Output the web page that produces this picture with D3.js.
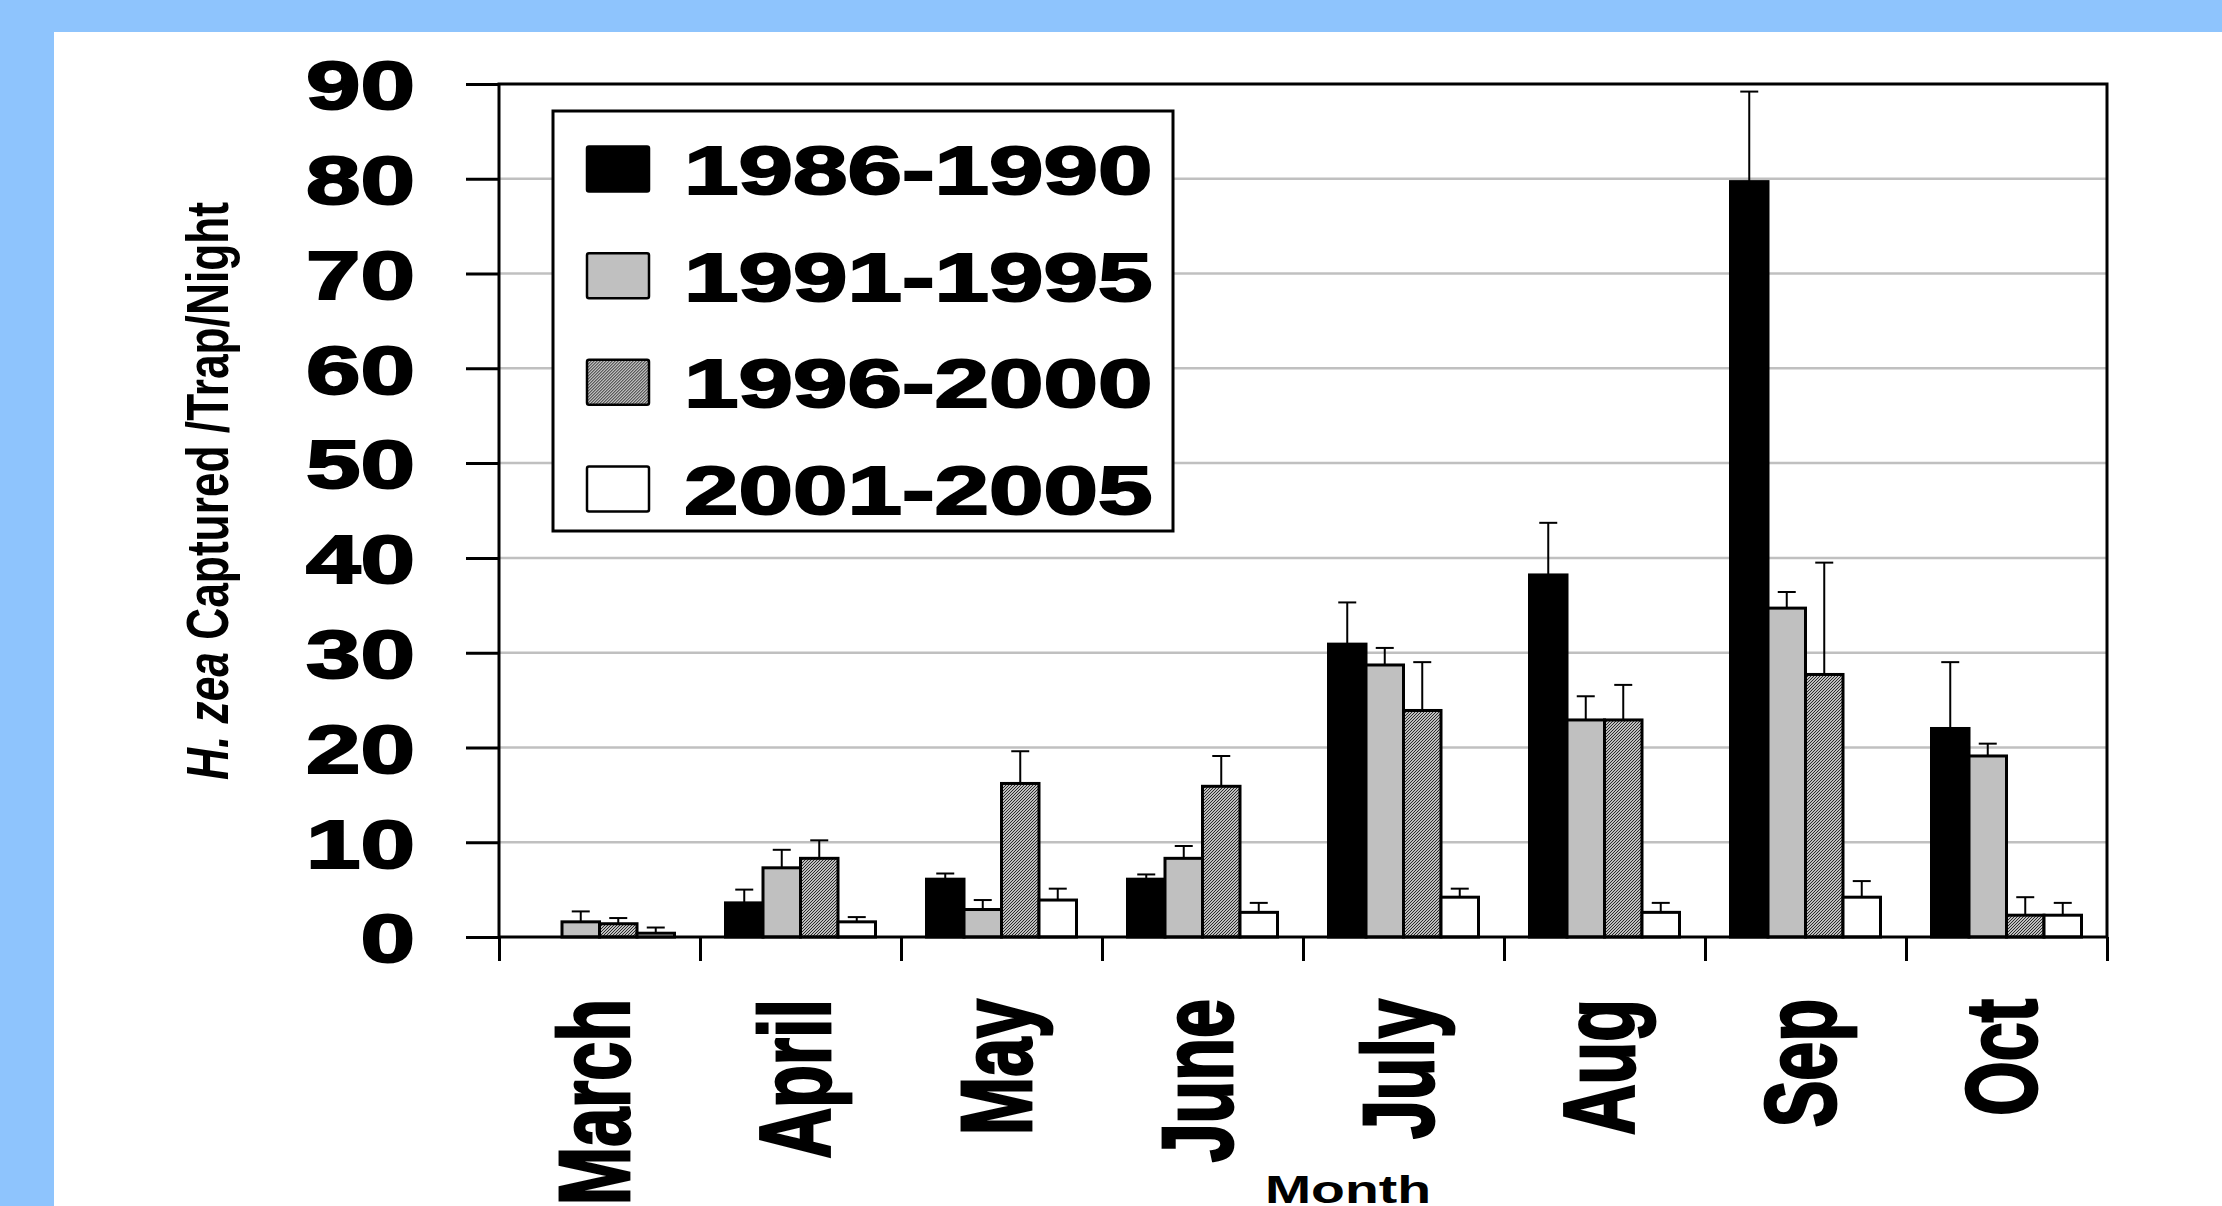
<!DOCTYPE html>
<html>
<head>
<meta charset="utf-8">
<script src="https://cdn.jsdelivr.net/npm/d3@7"></script>
<style>
  html, body { margin: 0; padding: 0; background: #8ec4fd; }
  svg { display: block; }
  text { font-family: "Liberation Sans", Arial, Helvetica, sans-serif; font-weight: bold; fill: #000; }
</style>
</head>
<body>
<svg id="chart" width="2222" height="1206"></svg>
<script>

// Months on the x axis and the four five-year periods
var months  = ['March', 'April', 'May', 'June', 'July', 'Aug', 'Sep', 'Oct'];
var periods = ['1986-1990', '1991-1995', '1996-2000', '2001-2005'];

// Mean moths per trap per night
var mean_1986 = [0,   3.6, 6.1,  6.1,  30.9, 38.2, 79.7, 22.0];
var mean_1991 = [1.6, 7.3, 2.9,  8.3,  28.7, 22.9, 34.7, 19.1];
var mean_1996 = [1.4, 8.3, 16.2, 15.9, 23.9, 22.9, 27.7, 2.3];
var mean_2001 = [0.4, 1.6, 3.9,  2.6,  4.2,  2.6,  4.2,  2.3];

// Upper error bar lengths (SE)
var err_1986 = [0,   1.4, 0.6, 0.5, 4.4, 5.5, 9.5,  7.0];
var err_1991 = [1.1, 1.9, 1.0, 1.3, 1.8, 2.5, 1.7,  1.3];
var err_1996 = [0.6, 1.9, 3.4, 3.2, 5.1, 3.7, 11.8, 1.9];
var err_2001 = [0.6, 0.5, 1.2, 1.0, 0.9, 1.0, 1.7,  1.3];

var yTicks = [0, 10, 20, 30, 40, 50, 60, 70, 80, 90];
var yTitleItalic = 'H. zea';
var yTitleRest   = ' Captured /Trap/Night';
var xTitle       = 'Month';

var series = [
	{period: periods[0], means: mean_1986, errs: err_1986},
	{period: periods[1], means: mean_1991, errs: err_1991},
	{period: periods[2], means: mean_1996, errs: err_1996},
	{period: periods[3], means: mean_2001, errs: err_2001}
];

// the original picture is stretched sideways, text too
var stretch = 1.42;
// (window.top is read-only, so no plain "top" here)
var plotL = 499, plotR = 2107, plotT = 84, plotB = 937;
var fills = ['#000', '#c0c0c0', 'url(#hatch)', '#fff'];

var svg = d3.select('#chart');

svg.append('rect')
	.attr('x', 54).attr('y', 32)
	.attr('width', 2222 - 54).attr('height', 1206 - 32)
	.attr('fill', '#fff');

// fine diagonal hatch for 1996-2000
var pat = svg.append('defs').append('pattern')
	.attr('id', 'hatch')
	.attr('patternUnits', 'userSpaceOnUse')
	.attr('width', 3).attr('height', 3);
pat.append('rect').attr('width', 3).attr('height', 3).attr('fill', '#bdbdbd');
pat.append('path').attr('d', 'M0,2h1v1h-1z M1,1h1v1h-1z M2,0h1v1h-1z').attr('fill', '#2a2a2a');

var y  = d3.scaleLinear().domain([0, 90]).range([plotB, plotT]);
var x0 = d3.scaleBand().domain(months).range([plotL, plotR]);
var x1 = d3.scaleBand().domain(periods).range([0, x0.bandwidth()]).paddingOuter(0.68);

// gridlines
svg.append('g').selectAll('line')
	.data(yTicks.filter(function(d){ return d > 0 && d < 90; }))
	.join('line')
	.attr('x1', plotL).attr('x2', plotR)
	.attr('y1', function(d){ return y(d); })
	.attr('y2', function(d){ return y(d); })
	.attr('stroke', '#c0c0c0')
	.attr('stroke-width', 2.5);

// one record per bar
var cells = [];
months.forEach(function(m, mi){
	series.forEach(function(s, si){
		cells.push({month: m, period: s.period, idx: si, v: s.means[mi], e: s.errs[mi]});
	});
});
var drawn = cells.filter(function(d){ return d.v > 0; });

svg.append('g').selectAll('rect')
	.data(drawn)
	.join('rect')
	.attr('x', function(d){ return x0(d.month) + x1(d.period); })
	.attr('width', x1.bandwidth())
	.attr('y', function(d){ return y(d.v); })
	.attr('height', function(d){ return y(0) - y(d.v); })
	.attr('fill', function(d){ return fills[d.idx]; })
	.attr('stroke', '#000')
	.attr('stroke-width', 3);

// error bars, upper half only
var eb = svg.append('g').attr('stroke', '#000').attr('stroke-width', 2);
var cx = function(d){ return x0(d.month) + x1(d.period) + x1.bandwidth() / 2; };
eb.selectAll('line.v')
	.data(drawn)
	.join('line').attr('class', 'v')
	.attr('x1', cx).attr('x2', cx)
	.attr('y1', function(d){ return y(d.v); })
	.attr('y2', function(d){ return y(d.v + d.e); });
eb.selectAll('line.c')
	.data(drawn)
	.join('line').attr('class', 'c')
	.attr('x1', function(d){ return cx(d) - 9; })
	.attr('x2', function(d){ return cx(d) + 9; })
	.attr('y1', function(d){ return y(d.v + d.e); })
	.attr('y2', function(d){ return y(d.v + d.e); });

// frame
var frame = svg.append('g').attr('stroke', '#000').attr('stroke-width', 3).attr('fill', 'none');
frame.append('path').attr('d', 'M' + plotL + ',' + plotT + 'H' + plotR + 'V' + plotB + 'H' + plotL + 'Z');

// y axis
var yAxis = svg.append('g')
	.attr('transform', 'translate(' + plotL + ',0)')
	.call(d3.axisLeft(y).tickValues(yTicks).tickSize(33).tickSizeOuter(0))
	.attr('font-size', null).attr('font-family', null);
yAxis.select('.domain').remove();
yAxis.selectAll('.tick line').attr('stroke', '#000').attr('stroke-width', 3);
yAxis.selectAll('.tick text')
	.attr('x', 0)
	.attr('dy', '0.36em')
	.attr('text-anchor', 'end')
	.attr('font-size', 69)
	.attr('stroke', '#000')
	.attr('stroke-width', 2)
	.attr('transform', 'translate(-84,0) scale(' + stretch + ',1)');

// x axis: ticks sit between the months
var xEdge = d3.scaleLinear().domain([0, months.length]).range([plotL, plotR]);
var xTicks = svg.append('g')
	.attr('transform', 'translate(0,' + plotB + ')')
	.call(d3.axisBottom(xEdge).ticks(months.length).tickSize(24).tickSizeOuter(0).tickFormat(''));
xTicks.select('.domain').remove();
xTicks.selectAll('.tick line').attr('stroke', '#000').attr('stroke-width', 3);

var xAxis = svg.append('g')
	.attr('transform', 'translate(0,' + plotB + ')')
	.call(d3.axisBottom(x0).tickSize(0))
	.attr('font-size', null).attr('font-family', null);
xAxis.select('.domain').remove();
xAxis.selectAll('.tick text')
	.attr('x', 0).attr('y', 0)
	.attr('dy', '0.36em')
	.attr('text-anchor', 'end')
	.attr('font-size', 70)
	.attr('stroke', '#000')
	.attr('stroke-width', 2)
	.attr('transform', 'translate(-6,62) scale(' + stretch + ',1) rotate(-90)');

// axis titles
var yTitle = svg.append('text')
	.attr('transform', 'translate(207,491) scale(' + stretch + ',1) rotate(-90)')
	.attr('text-anchor', 'middle')
	.attr('dy', '0.35em')
	.attr('font-size', 42)
	.attr('textLength', 578)
	.attr('lengthAdjust', 'spacingAndGlyphs');
yTitle.append('tspan').attr('font-style', 'italic').text(yTitleItalic);
yTitle.append('tspan').text(yTitleRest);

svg.append('text')
	.attr('transform', 'translate(1348,1203) scale(' + stretch + ',1)')
	.attr('text-anchor', 'middle')
	.attr('font-size', 39)
	.text(xTitle);

// legend
var legend = svg.append('g');
legend.append('rect')
	.attr('x', 553).attr('y', 111)
	.attr('width', 620).attr('height', 420)
	.attr('fill', '#fff').attr('stroke', '#000').attr('stroke-width', 3);

var rowY = d3.scalePoint().domain(periods).range([169, 489]);
var rows = legend.selectAll('g.row')
	.data(series)
	.join('g').attr('class', 'row')
	.attr('transform', function(d){ return 'translate(0,' + rowY(d.period) + ')'; });
rows.append('rect')
	.attr('x', 587).attr('y', -22.5)
	.attr('width', 62).attr('height', 45)
	.attr('rx', 2)
	.attr('fill', function(d, i){ return fills[i]; })
	.attr('stroke', '#000').attr('stroke-width', 2.5);
rows.append('text')
	.attr('transform', 'translate(684,0) scale(' + stretch + ',1)')
	.attr('dy', '0.36em')
	.attr('font-size', 69)
	.attr('stroke', '#000')
	.attr('stroke-width', 2)
	.text(function(d){ return d.period; });

</script>
</body>
</html>
